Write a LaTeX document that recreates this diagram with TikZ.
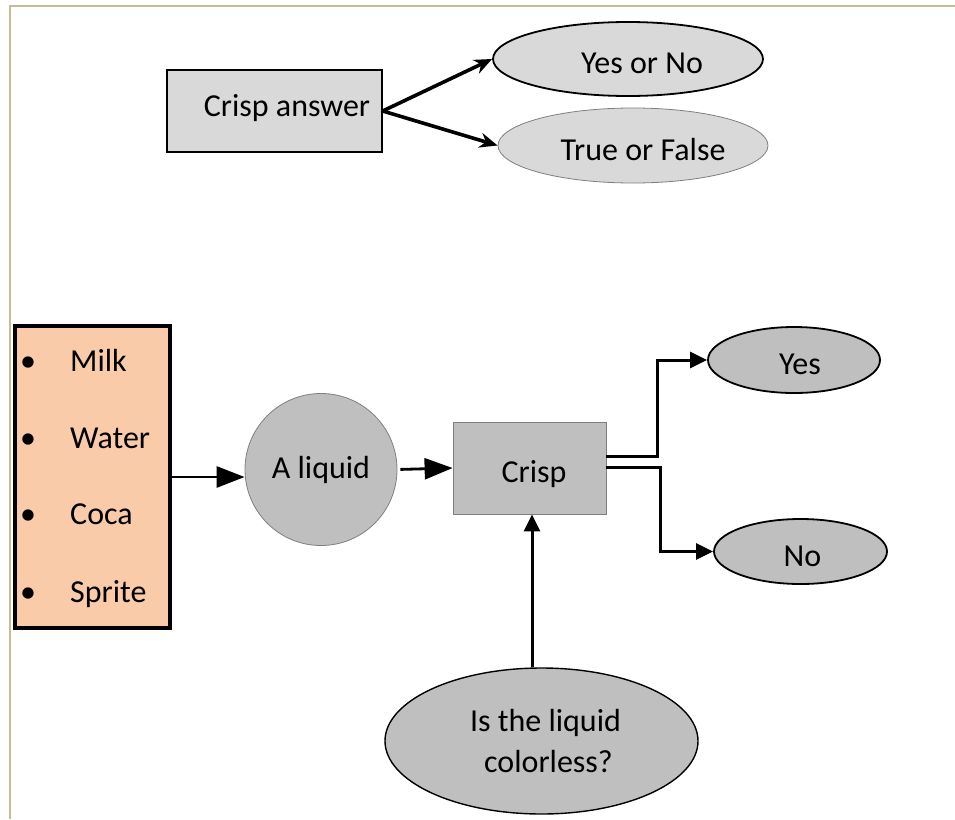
\documentclass[tikz,border=0pt]{standalone}
\usepackage{fontspec}
\setmainfont{Carlito}
\usepackage{tikz}
\usetikzlibrary{shapes.geometric}
\usetikzlibrary{arrows.meta}
\definecolor{lightfill}{HTML}{D9D9D9}
\definecolor{darkfill}{HTML}{BFBFBF}
\definecolor{peach}{HTML}{F9CBA9}
\definecolor{edgegray}{HTML}{7F7F7F}
\definecolor{pageline}{HTML}{C4BD97}
\begin{document}
\begin{tikzpicture}[x=1pt,y=-1pt,font=\fontsize{32}{41}\selectfont,
	box/.style={rectangle,inner sep=0pt,text height=29pt,text depth=0pt},
	oval/.style={ellipse,inner sep=0pt,text height=29pt,text depth=0pt},
	thinline/.style={draw=edgegray,line width=0.8pt},
	toptip/.style={-{Stealth[length=18pt,width=15pt]},line width=3.6pt},
	bigtip/.style={-{Triangle[length=28pt,width=21pt]},line width=2.8pt},
	smalltip/.style={-{Triangle[length=17pt,width=16pt]},line width=3pt}
	]
	\useasboundingbox (0,0) rectangle (955,819);
	\draw[pageline,line width=2pt] (10,819) |- (955,6);
	\node (crispans) [box,fill=lightfill,draw,line width=1.4pt,minimum width=215pt,minimum height=82pt] at (274.5,111) {\hspace*{25pt}\raisebox{9pt}{Crisp answer}};
	\node (yesno) [oval,fill=lightfill,draw,line width=1.8pt,minimum width=270pt,minimum height=74pt] at (628,59) {\hspace*{28pt}Yes or No};
	\node (truefalse) [oval,fill=lightfill,thinline,minimum width=270pt,minimum height=75pt] at (633,145.5) {\hspace*{20pt}True or False};
	\draw[toptip] (crispans.east) -- (yesno.west);
	\draw[toptip] (crispans.east) -- (truefalse.west);
	\node (drinks) [box,fill=peach,draw,line width=3.2pt,minimum width=155pt,minimum height=302pt] at (92.5,477) {};
	\foreach \drink/\y in {Milk/371,Water/448,Coca/524,Sprite/602}{
		\node (dot-\drink) [anchor=base,inner sep=0pt] at (28,\y) {•};
		\node (item-\drink) [anchor=base west,inner sep=0pt] at (70,\y) {\drink};
	}
	\node (liquid) [circle,inner sep=0pt,fill=darkfill,thinline,minimum size=152pt] at (321,469.5) {A liquid};
	\node (crispbox) [box,fill=darkfill,thinline,minimum width=153pt,minimum height=92pt] at (529.5,468) {\hspace*{9pt}Crisp};
	\node (yes) [oval,fill=darkfill,draw,line width=1.8pt,minimum width=172pt,minimum height=66pt] at (794,360) {\hspace*{12pt}Yes};
	\node (no) [oval,fill=darkfill,draw,line width=1.8pt,minimum width=173pt,minimum height=65pt] at (800.5,551.5) {\hspace*{4pt}No};
	\node (question) [ellipse,inner sep=0pt,fill=darkfill,draw,line width=1.4pt,minimum width=313pt,minimum height=146pt,align=center] at (541.5,741) {\hspace*{8pt}Is the liquid\\\hspace*{14pt}colorless?};
	\draw[bigtip] (drinks.east) -- (drinks.east -| liquid.west);
	\draw[bigtip,shorten <=3pt] (liquid.east) -- (crispbox.west);
	\draw[smalltip] ([yshift=12pt]crispbox.east) -- ++(51,0) |- (yes.west);
	\draw[smalltip] ([yshift=1pt]crispbox.east) -- ++(54,0) |- (no.west);
	\draw[smalltip] ([xshift=2.5pt]question.north -| crispbox.south) -- ([xshift=2.5pt]crispbox.south);
\end{tikzpicture}
\end{document}
